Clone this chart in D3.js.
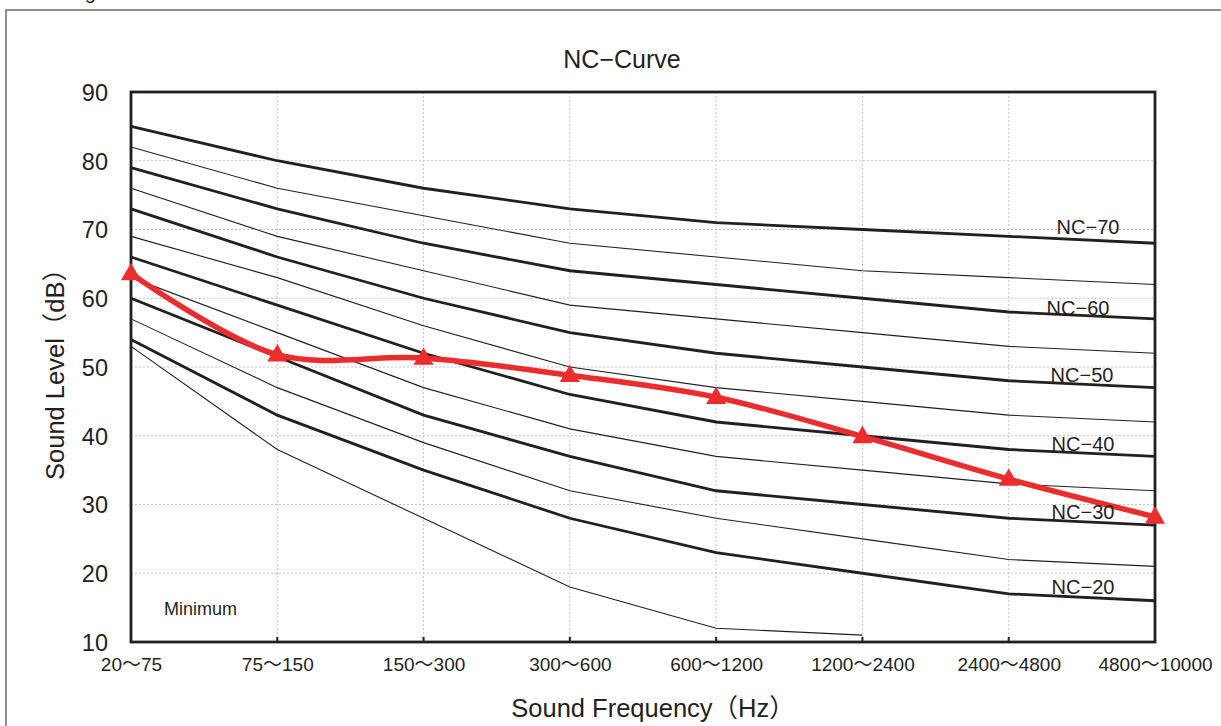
<!DOCTYPE html>
<html>
<head>
<meta charset="utf-8">
<script src="https://cdn.jsdelivr.net/npm/d3@7"></script>
<style>
  html, body { margin: 0; padding: 0; background: #fff; }
  svg { display: block; }
  text { font-family: "Liberation Sans", Arial, "Noto Sans CJK JP", sans-serif; fill: #231f20; }
</style>
</head>
<body>
<svg id="chart" width="1221" height="726"></svg>
<script>
// ---------- data ----------
const categories = ["20～75", "75～150", "150～300", "300～600", "600～1200", "1200～2400", "2400～4800", "4800～10000"];
const yTicks = [10, 20, 30, 40, 50, 60, 70, 80, 90];

const nc70 = [85, 80, 76, 73, 71, 70, 69, 68];
const nc65 = [82, 76, 72, 68, 66, 64, 63, 62];
const nc60 = [79, 73, 68, 64, 62, 60, 58, 57];
const nc55 = [76, 69, 64, 59, 57, 55, 53, 52];
const nc50 = [73, 66, 60, 55, 52, 50, 48, 47];
const nc45 = [69, 63, 56, 50, 47, 45, 43, 42];
const nc40 = [66, 59, 52, 46, 42, 40, 38, 37];
const nc35 = [63, 55, 47, 41, 37, 35, 33, 32];
const nc30 = [60, 51.5, 43, 37, 32, 30, 28, 27];
const nc25 = [57, 47, 39, 32, 28, 25, 22, 21];
const nc20 = [54, 43, 35, 28, 23, 20, 17, 16];
const minimum = [53, 38, 28, 18, 12, 11];

const measured = [63.6, 51.8, 51.3, 48.8, 45.6, 39.9, 33.7, 28.2];

const thickCurves = [nc70, nc60, nc50, nc40, nc30, nc20];
const thinCurves = [nc65, nc55, nc45, nc35, nc25, minimum];
const curveLabels = ["NC−70", "NC−60", "NC−50", "NC−40", "NC−30", "NC−20"];

// ---------- layout ----------
const svg = d3.select("#chart");
const L = 131, R = 1155, T = 92, B = 642;

const x = d3.scalePoint().domain(categories).range([L, R]).padding(0);
const y = d3.scaleLinear().domain([10, 90]).range([B, T]);

// outer frame
svg.append("rect").attr("x", 6).attr("y", 10).attr("width", 1400).attr("height", 900)
  .attr("fill", "none").attr("stroke", "#555").attr("stroke-width", 1.3);
// cut-off caption above frame (as in the reference)
svg.append("text").attr("x", 68).attr("y", -1).attr("font-size", 20).text("Fig");

// gridlines
const grid = svg.append("g");
grid.selectAll("line.h").data(yTicks.slice(1, -1)).join("line")
  .attr("x1", L).attr("x2", R).attr("y1", d => y(d)).attr("y2", d => y(d))
  .attr("stroke", "#c4c4c4").attr("stroke-width", 1).attr("stroke-dasharray", "2,2");
grid.selectAll("line.v").data(categories.slice(1, -1)).join("line")
  .attr("y1", T).attr("y2", B).attr("x1", d => x(d)).attr("x2", d => x(d))
  .attr("stroke", "#c4c4c4").attr("stroke-width", 1).attr("stroke-dasharray", "2,2");

const line = d3.line().x((d, i) => x(categories[i])).y(d => y(d));

svg.append("g").selectAll("path").data(thinCurves).join("path")
  .attr("d", line).attr("fill", "none").attr("stroke", "#231f20").attr("stroke-width", 1.1);
svg.append("g").selectAll("path").data(thickCurves).join("path")
  .attr("d", line).attr("fill", "none").attr("stroke", "#231f20").attr("stroke-width", 2.8);

// axes
const yAxis = d3.axisLeft(y).tickValues(yTicks).tickSize(0).tickPadding(23);
const gy = svg.append("g").attr("transform", `translate(${L},0)`).call(yAxis);
gy.select(".domain").remove();
gy.selectAll("text").attr("font-size", 23.5).attr("dy", "0.36em")
  .style("font-family", '"Liberation Sans", Arial, sans-serif');

const xAxis = d3.axisBottom(x).tickSize(0).tickPadding(16);
const gx = svg.append("g").attr("transform", `translate(0,${B})`).call(xAxis);
gx.select(".domain").remove();
gx.selectAll("text").attr("font-size", 19)
  .style("font-family", '"Liberation Sans", Arial, "Noto Sans CJK JP", sans-serif');

// bottom inner ticks
svg.append("g").selectAll("line").data(categories).join("line")
  .attr("x1", d => x(d)).attr("x2", d => x(d)).attr("y1", B).attr("y2", B - 5)
  .attr("stroke", "#231f20").attr("stroke-width", 2);

// plot frame
svg.append("rect").attr("x", L).attr("y", T).attr("width", R - L).attr("height", B - T)
  .attr("fill", "none").attr("stroke", "#231f20").attr("stroke-width", 2.8);

// measured red curve
const redLine = d3.line().x((d, i) => x(categories[i])).y(d => y(d)).curve(d3.curveCatmullRom.alpha(0.5));
svg.append("path").datum(measured).attr("d", redLine)
  .attr("fill", "none").attr("stroke", "#ec2d2d").attr("stroke-width", 5.5).attr("stroke-linejoin", "round");
const tri = d3.symbol().type(d3.symbolTriangle).size(175);
svg.append("g").selectAll("path").data(measured).join("path")
  .attr("d", tri)
  .attr("transform", (d, i) => `translate(${x(categories[i])},${y(d) + 1})`)
  .attr("fill", "#ec2d2d");

// curve labels
const labelPos = [[1088, 70.4], [1078, 58.6], [1082, 48.8], [1083, 38.8], [1083, 28.9], [1083, 18.0]];
svg.append("g").selectAll("text").data(curveLabels).join("text")
  .attr("x", (d, i) => labelPos[i][0]).attr("y", (d, i) => y(labelPos[i][1]))
  .attr("dy", "0.35em").attr("text-anchor", "middle").attr("font-size", 20).text(d => d);

svg.append("text").attr("x", 164).attr("y", 615).attr("font-size", 18).text("Minimum");

// titles
svg.append("text").attr("x", 622).attr("y", 68).attr("text-anchor", "middle")
  .attr("font-size", 25).text("NC−Curve");
svg.append("text").attr("x", 653).attr("y", 717).attr("text-anchor", "middle")
  .attr("font-size", 25.5).text("Sound Frequency（Hz）");
svg.append("text").attr("transform", "translate(64,368) rotate(-90)").attr("text-anchor", "middle")
  .attr("font-size", 25.5).text("Sound Level（dB）");
</script>
</body>
</html>
